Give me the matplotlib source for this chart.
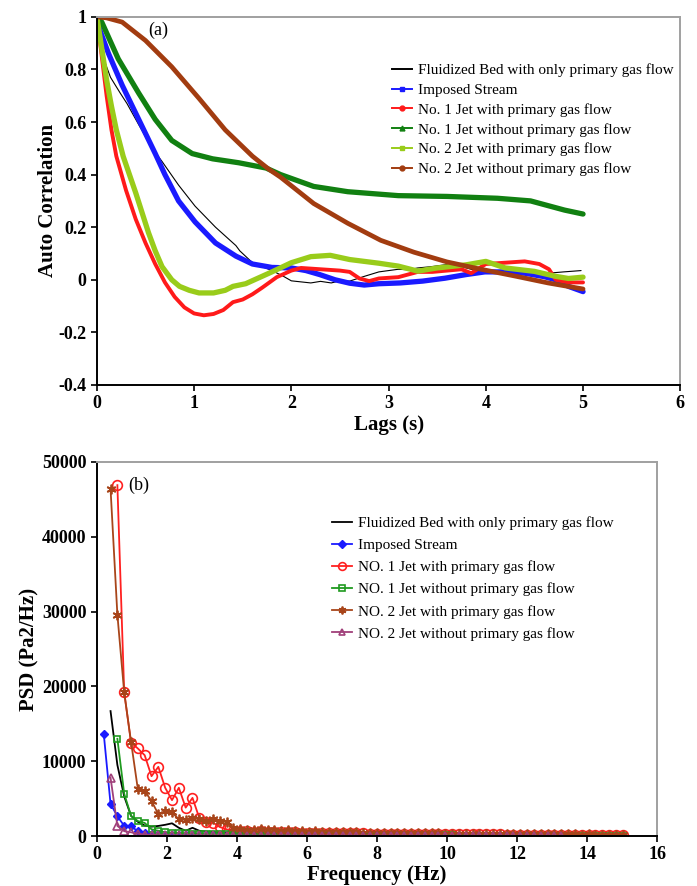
import matplotlib

matplotlib.use("Agg")

import matplotlib.pyplot as plt
import numpy as np
from matplotlib.lines import Line2D
from matplotlib.ticker import FuncFormatter


OUT_PATH = "out.png"
DPI = 100
FIGSIZE = (6.97, 8.86)
FONT = "Liberation Serif"
TICK_SIZE = 13
LABEL_SIZE = 15
LEGEND_SIZE = 11

# ---------------- (a) auto correlation ----------------
FB_LAG = [0, 0.03, 0.07, 0.14, 0.24, 0.31, 0.43, 0.57, 0.67, 0.84, 1.01, 1.22,
          1.43, 1.47, 1.6, 1.8, 1.91, 2.0, 2.1, 2.2, 2.3, 2.41, 2.5, 2.6, 2.75,
          2.9, 3.0, 3.1, 3.2, 3.3, 3.44, 3.6, 3.75, 3.85, 3.95, 4.1, 4.29, 4.5,
          4.64, 4.8, 4.98]
FB_ACF = [1.0, 0.91, 0.84, 0.77, 0.71, 0.67, 0.59, 0.50, 0.45, 0.36, 0.28, 0.20,
          0.13, 0.11, 0.065, 0.035, 0.015, -0.004, -0.008, -0.012, -0.006, -0.012,
          -0.004, -0.005, 0.013, 0.03, 0.035, 0.04, 0.038, 0.045, 0.05, 0.058,
          0.05, 0.04, 0.03, 0.025, 0.02, 0.02, 0.025, 0.03, 0.035]

IS_LAG = [0, 0.03, 0.12, 0.26, 0.43, 0.6, 0.7, 0.84, 1.01, 1.22, 1.43, 1.6, 1.8,
          2.0, 2.15, 2.29, 2.45, 2.6, 2.75, 2.9, 3.12, 3.35, 3.58, 3.8, 3.99, 4.2,
          4.4, 4.6, 4.72, 4.85, 5.0]
IS_ACF = [1.0, 0.95, 0.86, 0.74, 0.61, 0.48, 0.40, 0.30, 0.22, 0.14, 0.09, 0.06,
          0.047, 0.045, 0.035, 0.02, 0.0, -0.013, -0.02, -0.015, -0.012, -0.005,
          0.006, 0.02, 0.03, 0.03, 0.025, 0.012, 0.0, -0.025, -0.045]

J1P_LAG = [0, 0.05, 0.1, 0.15, 0.2, 0.3, 0.4, 0.5, 0.6, 0.7, 0.8, 0.9, 1.0, 1.1,
           1.2, 1.3, 1.4, 1.5, 1.6, 1.7, 1.85, 2.0, 2.1, 2.3, 2.5, 2.6, 2.7, 2.8,
           2.9, 3.1, 3.3, 3.45, 3.6, 3.75, 3.85, 4.0, 4.2, 4.4, 4.55, 4.65, 4.72,
           4.85, 5.0]
J1P_ACF = [1.0, 0.85, 0.70, 0.57, 0.47, 0.34, 0.23, 0.14, 0.06, -0.01, -0.065,
           -0.105, -0.128, -0.135, -0.13, -0.115, -0.085, -0.075, -0.055, -0.03,
           0.01, 0.035, 0.045, 0.04, 0.035, 0.03, 0.005, -0.005, 0.005, 0.01,
           0.03, 0.03, 0.035, 0.04, 0.025, 0.06, 0.065, 0.07, 0.06, 0.04, 0.0,
           -0.01, -0.01]

J1N_LAG = [0, 0.05, 0.22, 0.43, 0.6, 0.77, 0.98, 1.19, 1.46, 1.74, 1.89, 2.23,
           2.58, 3.1, 3.6, 4.12, 4.46, 4.81, 5.0]
J1N_ACF = [1.0, 0.98, 0.84, 0.71, 0.61, 0.53, 0.48, 0.46, 0.445, 0.425, 0.40,
           0.355, 0.335, 0.32, 0.317, 0.31, 0.30, 0.265, 0.25]

J2P_LAG = [0, 0.05, 0.1, 0.15, 0.2, 0.27, 0.4, 0.53, 0.6, 0.67, 0.77, 0.85, 0.95,
           1.05, 1.2, 1.32, 1.4, 1.53, 1.65, 1.8, 2.0, 2.2, 2.4, 2.6, 2.9, 3.1,
           3.3, 3.5, 3.8, 4.0, 4.2, 4.5, 4.72, 4.85, 5.0]
J2P_ACF = [1.0, 0.88, 0.76, 0.66, 0.57, 0.47, 0.33, 0.18, 0.11, 0.05, 0.0,
           -0.025, -0.04, -0.05, -0.05, -0.04, -0.025, -0.015, 0.005, 0.03,
           0.065, 0.088, 0.093, 0.077, 0.063, 0.052, 0.033, 0.045, 0.057, 0.07,
           0.045, 0.032, 0.013, 0.005, 0.01]

J2N_LAG = [0, 0.1, 0.26, 0.5, 0.77, 1.05, 1.32, 1.6, 1.77, 1.89, 2.23, 2.58, 2.92,
           3.26, 3.6, 3.95, 4.29, 4.64, 5.0]
J2N_ACF = [1.0, 0.996, 0.98, 0.91, 0.81, 0.69, 0.57, 0.47, 0.42, 0.39, 0.29,
           0.215, 0.15, 0.105, 0.068, 0.04, 0.015, -0.012, -0.035]

ACF_LABELS = [
    "Fluidized Bed with only primary gas flow",
    "Imposed Stream",
    "No. 1 Jet with primary gas flow",
    "No. 1 Jet without primary gas flow",
    "No. 2 Jet with primary gas flow",
    "No. 2 Jet without primary gas flow",
]

# ---------------- (b) power spectral density ----------------
FREQ_STEP = 0.195
N_BINS = 77

PSD_FB = [16700, 9500, 5300, 2700, 1900, 1400, 1250, 1350, 1500, 1700, 1100, 700,
          1100, 700, 600, 550, 500, 450, 420,
          400, 380, 360, 350, 330, 320, 300, 290, 280, 270,
          260, 250, 240, 230, 220, 215, 210, 200, 195, 190,
          185, 180, 175, 170, 165, 160, 155, 150, 145, 140,
          135, 130, 128, 125, 122, 120, 118, 115, 112, 110,
          108, 105, 103, 100, 98, 96, 94, 92, 90, 88,
          86, 85, 84, 83, 82, 81, 80]
PSD_IS = [13700, 4300, 2650, 1350, 1300, 650, 450, 300, 250, 200, 180, 160, 140,
          120, 110, 100,
          96, 92, 90, 88, 85, 82, 80, 78, 76, 74,
          72, 70, 69, 68, 66, 64, 63, 62, 60, 59,
          58, 57, 56, 55, 54, 53, 52, 51, 50, 49,
          48, 47, 46, 45, 45, 44, 43, 42, 42, 41,
          40, 40, 39, 38, 38, 37, 36, 36, 35, 35,
          34, 34, 33, 33, 32, 32, 31, 31, 30, 30, 30]
PSD_J1P = [46900, 19200, 12500, 11700, 10800, 8000, 9250, 6450, 4800, 6450, 3800,
           5100, 2400, 1900, 1800, 1200, 900, 700,
           650, 700, 600, 650, 600, 550, 580, 500, 520, 460,
           470, 420, 430, 390, 400, 360, 370, 340, 345, 320,
           325, 300, 305, 285, 290, 270, 275, 255, 260, 245,
           250, 235, 238, 225, 228, 215, 218, 205, 208, 195,
           198, 185, 188, 178, 180, 170, 172, 162, 165, 155,
           158, 150, 152, 145, 147, 140, 142]
PSD_J1N = [13000, 5650, 2700, 2000, 1750, 900, 700, 500, 450, 400, 350, 330, 300,
           280, 260, 240, 220, 200,
           190, 180, 175, 170, 160, 155, 150, 145, 140, 135,
           130, 125, 122, 118, 115, 112, 108, 105, 102, 100,
           97, 95, 92, 90, 88, 85, 83, 80, 78, 76,
           74, 72, 70, 68, 66, 64, 63, 62, 60, 58,
           57, 56, 54, 53, 52, 50, 49, 48, 47, 46,
           45, 44, 43, 42, 41, 40, 40]
PSD_J2P = [46400, 29600, 19200, 12600, 6250, 6000, 4700, 2900, 3300, 3150, 2250,
           2200, 2450, 2250, 2000, 2300, 2000, 1900, 1100,
           900, 800, 850, 1000, 750, 850, 700, 750, 650, 700,
           600, 620, 560, 580, 520, 540, 480, 500, 450, 470,
           430, 440, 400, 410, 380, 390, 360, 370, 340, 350,
           320, 330, 300, 310, 290, 295, 275, 280, 260, 265,
           250, 255, 240, 245, 230, 235, 220, 225, 210, 215,
           200, 205, 195, 198, 185, 190, 180]
PSD_J2N = [7800, 1350, 650, 500, 300, 200, 150, 120, 100,
           90, 88, 85, 82, 80, 78, 75, 72, 70, 68,
           66, 64, 62, 60, 58, 57, 55, 54, 52, 51,
           50, 48, 47, 46, 45, 44, 43, 42, 41, 40,
           39, 38, 37, 36, 35, 35, 34, 33, 32, 32,
           31, 30, 30, 29, 28, 28, 27, 27, 26, 26,
           25, 25, 24, 24, 23, 23, 22, 22]
PSD_START_BIN = {"FB": 2, "IS": 1, "J1P": 3, "J1N": 3, "J2P": 2, "J2N": 2}

PSD_LABELS = [
    "Fluidized Bed with only primary gas flow",
    "Imposed Stream",
    "NO. 1 Jet with primary gas flow",
    "NO. 1 Jet without primary gas flow",
    "NO. 2 Jet with primary gas flow",
    "NO. 2 Jet without primary gas flow",
]

ACF_COLORS = ["black", "#1a1aff", "#ff1a1a", "#118011", "#99cc1a", "#a23c10"]
PSD_COLORS = ["black", "#1a1aff", "#ff2020", "#1f9a1f", "#a8451a", "#a0407a"]


def bold_ticks(ax):
    for label in ax.get_xticklabels() + ax.get_yticklabels():
        label.set_fontweight("bold")
        label.set_fontsize(TICK_SIZE)


def style_spines(ax):
    for side in ("left", "bottom"):
        ax.spines[side].set_color("black")
        ax.spines[side].set_linewidth(1.4)
    for side in ("top", "right"):
        ax.spines[side].set_color("#a0a0a0")
        ax.spines[side].set_linewidth(1.4)
    ax.tick_params(direction="out", length=4, width=1.2, top=False, right=False)


def draw_acf(ax):
    series = [
        (FB_LAG, FB_ACF, 0.8),
        (IS_LAG, IS_ACF, 3.8),
        (J1P_LAG, J1P_ACF, 2.8),
        (J1N_LAG, J1N_ACF, 3.8),
        (J2P_LAG, J2P_ACF, 3.8),
        (J2N_LAG, J2N_ACF, 3.4),
    ]
    for (lag, acf, lw), color in zip(series, ACF_COLORS):
        ax.plot(lag, acf, color=color, lw=lw, solid_capstyle="round",
                solid_joinstyle="round")

    markers = [None, "s", "o", "^", "s", "o"]
    handles = [
        Line2D([], [], color=c, lw=1.4, marker=m, ms=3.5)
        for c, m in zip(ACF_COLORS, markers)
    ]
    ax.legend(handles, ACF_LABELS, loc="upper left", bbox_to_anchor=(0.506, 0.873),
              frameon=False, fontsize=LEGEND_SIZE, handlelength=1.3,
              handletextpad=0.4, labelspacing=0.39, borderpad=0, borderaxespad=0)

    ax.set_xlim(0, 6)
    ax.set_ylim(-0.4, 1.0)
    ax.set_xticks(np.arange(0, 7, 1))
    ax.set_yticks(np.arange(-0.4, 1.01, 0.2))
    ax.yaxis.set_major_formatter(FuncFormatter(lambda v, _: f"{round(v, 1):g}"))
    ax.set_xlabel("Lags (s)", fontsize=LABEL_SIZE, fontweight="bold", labelpad=2)
    ax.set_ylabel("Auto Correlation", fontsize=LABEL_SIZE, fontweight="bold",
                  labelpad=0)
    ax.text(0.53, 0.95, "(a)", fontsize=13, va="center")
    style_spines(ax)
    bold_ticks(ax)


def draw_psd(ax):
    freqs = np.round(FREQ_STEP * np.arange(1, N_BINS + 1), 3)
    series = [
        ("FB", PSD_FB, None, {}),
        ("IS", PSD_IS, "D", {"ms": 4.5}),
        ("J1P", PSD_J1P, "o", {"ms": 7, "mfc": "none", "mew": 1.2}),
        ("J1N", PSD_J1N, "s", {"ms": 5, "mfc": "none", "mew": 1.2}),
        ("J2P", PSD_J2P, (6, 2, 0), {"ms": 7, "mew": 1.3}),
        ("J2N", PSD_J2N, "^", {"ms": 5.5, "mfc": "none", "mew": 1.2}),
    ]
    for (key, values, marker, kw), color, label in zip(series, PSD_COLORS, PSD_LABELS):
        start = PSD_START_BIN[key] - 1
        ax.plot(freqs[start:start + len(values)], values, color=color, lw=1.3,
                marker=marker, label=label, **kw)

    ax.legend(loc="upper left", bbox_to_anchor=(0.42, 0.855), frameon=False,
              fontsize=LEGEND_SIZE, handlelength=1.3, handletextpad=0.4,
              labelspacing=0.55, borderpad=0, borderaxespad=0, markerscale=0.8)

    ax.set_xlim(0, 16)
    ax.set_ylim(0, 50000)
    ax.set_xticks(np.arange(0, 17, 2))
    ax.set_yticks(np.arange(0, 50001, 10000))
    ax.set_xlabel("Frequency (Hz)", fontsize=LABEL_SIZE, fontweight="bold",
                  labelpad=1)
    ax.set_ylabel("PSD (Pa2/Hz)", fontsize=LABEL_SIZE, fontweight="bold",
                  labelpad=2)
    ax.text(0.9, 46900, "(b)", fontsize=13, va="center")
    style_spines(ax)
    bold_ticks(ax)


def main():
    plt.rcParams["font.family"] = [FONT, "DejaVu Serif"]
    plt.rcParams["axes.unicode_minus"] = False
    fig = plt.figure(figsize=FIGSIZE, dpi=DPI)
    ax_a = fig.add_axes([0.139, 0.5655, 0.837, 0.4155])
    ax_b = fig.add_axes([0.139, 0.0564, 0.804, 0.4222])
    draw_acf(ax_a)
    draw_psd(ax_b)
    fig.savefig(OUT_PATH, dpi=DPI)
    plt.close(fig)


if __name__ == "__main__":
    main()
